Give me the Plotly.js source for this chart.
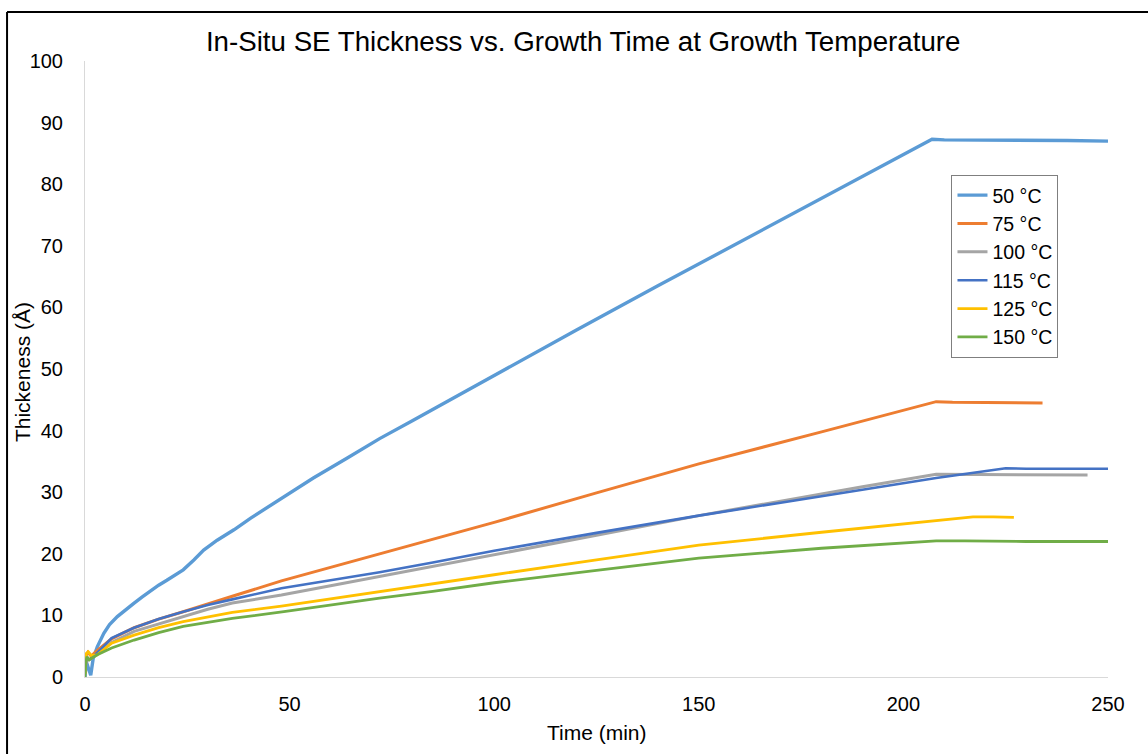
<!DOCTYPE html>
<html>
<head>
<meta charset="utf-8">
<script src="https://cdn.plot.ly/plotly-3.0.1.min.js"></script>
<style>
html, body { margin: 0; padding: 0; background: #fff; }
#chart { width: 1148px; height: 754px; }
</style>
</head>
<body>
<div id="chart"></div>
<script>
// Series names
const seriesNames = ["50 °C", "75 °C", "100 °C", "115 °C", "125 °C", "150 °C"];

// 50 °C
const t50 = [0, 0.3, 0.8, 1.4, 2, 3, 4.6, 6, 7.9, 10, 12, 14, 16, 18, 20, 22, 24, 26.6, 29, 32.3, 36.4, 40.5, 47, 55.8, 64, 72, 80, 90, 100, 120, 140, 160, 180, 200, 207, 210, 220, 230, 240, 250];
const y50 = [0, 2.5, 1.5, 0.3, 3.0, 4.9, 7.1, 8.5, 9.8, 11.0, 12.0, 13.0, 14.0, 14.9, 15.7, 16.5, 17.4, 19.0, 20.6, 22.2, 23.9, 25.8, 28.5, 32.3, 35.5, 38.7, 41.6, 45.3, 49.0, 56.3, 63.5, 70.6, 77.7, 84.8, 87.3, 87.2, 87.2, 87.1, 87.1, 87.0];

// 75 °C
const t75 = [0, 0.3, 0.7, 1.5, 3, 6.5, 12, 18, 24, 30, 36, 48, 60, 72, 85, 100, 125, 150, 180, 208, 212, 220, 234];
const y75 = [0.5, 3.5, 4, 3.4, 4.3, 6.2, 8.0, 9.4, 10.6, 11.9, 13.1, 15.6, 17.8, 20.0, 22.4, 25.1, 29.9, 34.6, 39.8, 44.7, 44.6, 44.6, 44.5];

// 100 °C
const t100 = [0, 0.3, 1, 2, 4, 6.5, 12, 18, 24, 30, 36, 48, 60, 72, 85, 100, 125, 150, 170, 190, 208, 212, 225, 245];
const y100 = [0.5, 3, 2.8, 3.2, 4.3, 5.6, 7.4, 8.6, 9.8, 11.0, 12.0, 13.3, 14.8, 16.3, 17.9, 19.8, 23.0, 26.2, 28.6, 30.9, 32.9, 32.9, 32.8, 32.8];

// 115 °C
const t115 = [0, 0.3, 1, 2, 4, 6.5, 12, 18, 24, 30, 36, 48, 60, 72, 85, 100, 125, 150, 170, 190, 208, 225, 230, 250];
const y115 = [0.5, 3, 2.8, 3.3, 4.6, 6.3, 8.0, 9.4, 10.6, 11.7, 12.6, 14.4, 15.7, 17.0, 18.6, 20.5, 23.4, 26.2, 28.3, 30.4, 32.3, 33.9, 33.8, 33.8];

// 125 °C
const t125 = [0, 0.3, 0.8, 1.5, 3, 6.5, 12, 18, 24, 30, 36, 48, 60, 72, 85, 100, 125, 150, 180, 200, 217, 222, 227];
const y125 = [0.5, 3.8, 4.1, 3.5, 3.6, 5.5, 6.8, 8.0, 9.0, 9.8, 10.5, 11.5, 12.7, 13.8, 15.1, 16.6, 19.0, 21.4, 23.5, 24.8, 26.0, 26.0, 25.9];

// 150 °C
const t150 = [0, 0.2, 0.5, 1, 3, 6.5, 12, 18, 24, 30, 36, 48.6, 60, 72, 85, 100, 125, 150, 180, 208, 215, 230, 250];
const y150 = [0, 2.5, 3.3, 2.8, 3.6, 4.7, 6.0, 7.2, 8.2, 8.9, 9.5, 10.6, 11.7, 12.8, 13.9, 15.3, 17.3, 19.3, 20.9, 22.1, 22.1, 22.0, 22.0];

const xTicks = [0, 50, 100, 150, 200, 250];
const yTicks = [0, 10, 20, 30, 40, 50, 60, 70, 80, 90, 100];
const xTitle = "Time (min)";
const yTitle = "Thickeness (Å)";
const chartTitle = "In-Situ SE Thickness vs. Growth Time at Growth Temperature";

const times = [t50, t75, t100, t115, t125, t150];
const values = [y50, y75, y100, y115, y125, y150];
const colors = ["#5B9BD5", "#ED7D31", "#A5A5A5", "#4472C4", "#FFC000", "#70AD47"];
const widths = [3.4, 3, 3, 2.6, 2.8, 2.8];

const traces = seriesNames.map((name, i) => ({
  x: times[i],
  y: values[i],
  name: name,
  type: "scatter",
  mode: "lines",
  line: { color: colors[i], width: widths[i] }
}));

const fam = "Liberation Sans, Arial, sans-serif";

const layout = {
  width: 1148,
  height: 754,
  margin: { l: 85, r: 40, t: 61, b: 77 },
  paper_bgcolor: "#fff",
  plot_bgcolor: "#fff",
  font: { family: fam, color: "#000" },
  showlegend: true,
  title: {
    text: chartTitle,
    font: { family: fam, size: 27.7, color: "#000" },
    xref: "container", yref: "container",
    x: 0.508, y: 0.945, xanchor: "center", yanchor: "middle"
  },
  xaxis: {
    range: [0, 250],
    tickvals: xTicks,
    ticktext: xTicks.map(String),
    showgrid: false,
    zeroline: false,
    showline: true,
    linecolor: "#d9d9d9",
    linewidth: 1,
    ticks: "",
    ticklabelstandoff: 9,
    tickfont: { family: fam, size: 20, color: "#000" },
    automargin: false
  },
  yaxis: {
    range: [0, 100],
    tickvals: yTicks,
    ticktext: yTicks.map(String),
    showgrid: false,
    zeroline: false,
    showline: true,
    linecolor: "#d9d9d9",
    linewidth: 1,
    ticks: "",
    ticklabelstandoff: 17,
    tickfont: { family: fam, size: 20, color: "#000" },
    automargin: false
  },
  legend: {
    x: 0.847, y: 0.815, xanchor: "left", yanchor: "top",
    bordercolor: "#7f7f7f", borderwidth: 1,
    bgcolor: "#fff",
    font: { family: fam, size: 19.5, color: "#000" },
    tracegroupgap: 0,
    itemwidth: 30,
    entrywidth: 120,
    entrywidthmode: "pixels"
  },
  annotations: [
    { text: xTitle, xref: "paper", yref: "paper", x: 0.5005, y: -0.0909, xanchor: "center", yanchor: "middle", showarrow: false, font: { family: fam, size: 21, color: "#000" } },
    { text: yTitle, xref: "paper", yref: "paper", x: -0.0616, y: 0.495, xanchor: "center", yanchor: "middle", textangle: -90, showarrow: false, font: { family: fam, size: 21, color: "#000" } }
  ],
  shapes: [
    { type: "line", xref: "paper", yref: "paper", x0: -0.0762, x1: 1.1, y0: 1.0795, y1: 1.0795, line: { color: "#000", width: 2 } },
    { type: "line", xref: "paper", yref: "paper", x0: -0.0762, x1: -0.0762, y0: 1.0795, y1: -0.2, line: { color: "#000", width: 2 } }
  ]
};

Plotly.newPlot("chart", traces, layout, { displayModeBar: false, staticPlot: true });
</script>
</body>
</html>
